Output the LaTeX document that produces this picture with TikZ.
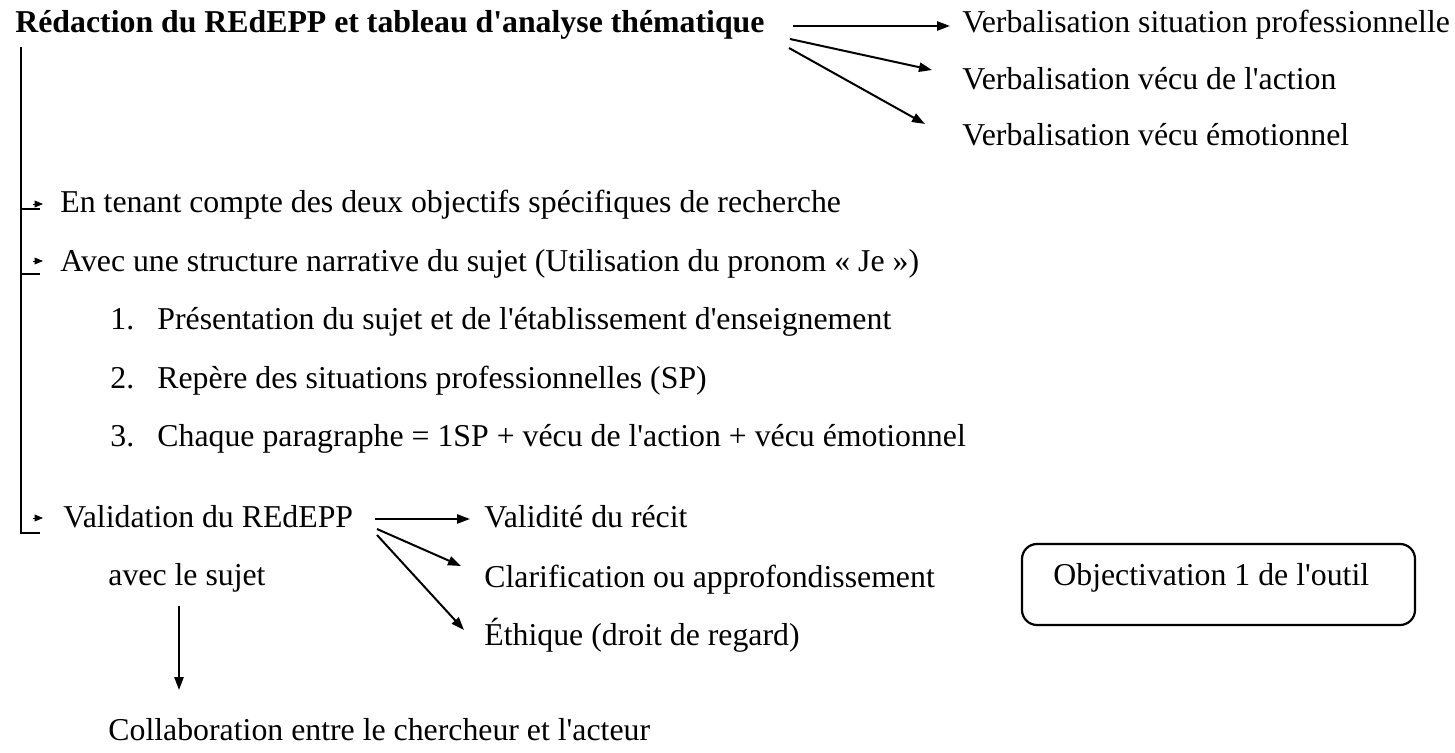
\documentclass[tikz,border=0pt]{standalone}
\usepackage{fontspec}
\newfontfamily\docfont{Liberation Serif}
\usetikzlibrary{arrows.meta}
\begin{document}
\begin{tikzpicture}[x=0.5pt,y=-0.5pt,
  txt/.style={font={\docfont\fontsize{15.9pt}{19pt}\selectfont}, inner sep=0pt, anchor=base west},
  boldtxt/.style={txt, font={\docfont\fontsize{15.9pt}{19pt}\selectfont\bfseries}},
  conn/.style={line width=1pt, -{Triangle[length=6.5pt,width=4.6pt]}},
  tinytip/.style={line width=0.4pt, -{Triangle[length=4.2pt,width=3.4pt]}},
  rail/.style={line width=1pt},
  roundbox/.style={draw, line width=1.1pt, rounded corners=7.5pt, minimum width=196.5pt, minimum height=40.5pt, inner sep=0pt}
]
\useasboundingbox (0,0) rectangle (1455,753);

% heading and its three outcomes
\node[boldtxt] (title) at (15,33) {Rédaction du REdEPP et tableau d'analyse thématique};
\node[txt] (v1) at (962,33) {Verbalisation situation professionnelle};
\node[txt] (v2) at (962,90) {Verbalisation vécu de l'action};
\node[txt] (v3) at (962,146) {Verbalisation vécu émotionnel};

\coordinate (s1) at (793,26);  \coordinate (t1) at (950,26);
\coordinate (s2) at (790,39);  \coordinate (t2) at (932,70);
\coordinate (s3) at (789,48);  \coordinate (t3) at (925,124);
\draw[conn] (s1) -- (t1);
\draw[conn] (s2) -- (t2);
\draw[conn] (s3) -- (t3);

% left rail with its branches
\coordinate (railtop) at (21,47);
\coordinate (b1) at (21,209); \coordinate (b1e) at (40,209);
\coordinate (b2) at (21,274); \coordinate (b2e) at (40,274);
\coordinate (b3) at (21,533); \coordinate (b3e) at (40,533);
\draw[rail] (railtop) -- (b3) -- (b3e);
\draw[rail] (b1) -- (b1e);
\draw[rail] (b2) -- (b2e);

\coordinate (p1) at (33,204); \coordinate (q1) at (43,204);
\coordinate (p2) at (33,261); \coordinate (q2) at (43,261);
\coordinate (p3) at (33,518); \coordinate (q3) at (43,518);
\draw[tinytip] (p1) -- (q1);
\draw[tinytip] (p2) -- (q2);
\draw[tinytip] (p3) -- (q3);

\node[txt] (obj1) at (60,213) {En tenant compte des deux objectifs spécifiques de recherche};
\node[txt] (narr) at (60,272) {Avec une structure narrative du sujet (Utilisation du pronom « Je »)};

% numbered list
\node[txt] (n1) at (110,330) {1.};
\node[txt] (i1) at (157,330) {Présentation du sujet et de l'établissement d'enseignement};
\node[txt] (n2) at (110,388) {2.};
\node[txt] (i2) at (157,388) {Repère des situations professionnelles (SP)};
\node[txt] (n3) at (110,446) {3.};
\node[txt] (i3) at (157,446) {Chaque paragraphe = 1SP + vécu de l'action + vécu émotionnel};

% validation block
\node[txt] (val) at (63,527) {Validation du REdEPP};
\node[txt] (avec) at (108,585) {avec le sujet};
\node[txt] (vr) at (484,527) {Validité du récit};
\node[txt] (cl) at (484,587) {Clarification ou approfondissement};
\node[txt] (eth) at (484,645) {Éthique (droit de regard)};

\coordinate (u1) at (375,519); \coordinate (w1) at (470,519);
\coordinate (u2) at (377,529); \coordinate (w2) at (461,566);
\coordinate (u3) at (377,535); \coordinate (w3) at (464,630);
\draw[conn] (u1) -- (w1);
\draw[conn] (u2) -- (w2);
\draw[conn] (u3) -- (w3);

\node[txt] (collab) at (108,740) {Collaboration entre le chercheur et l'acteur};
\coordinate (d1) at (179,606);
\draw[conn] (d1) -- (d1 |- 0,690);

% framed note
\node[roundbox] (objbox) at (1218.5,584.5) {};
\node[txt] (objtxt) at (1053,585) {Objectivation 1 de l'outil};
\end{tikzpicture}
\end{document}
